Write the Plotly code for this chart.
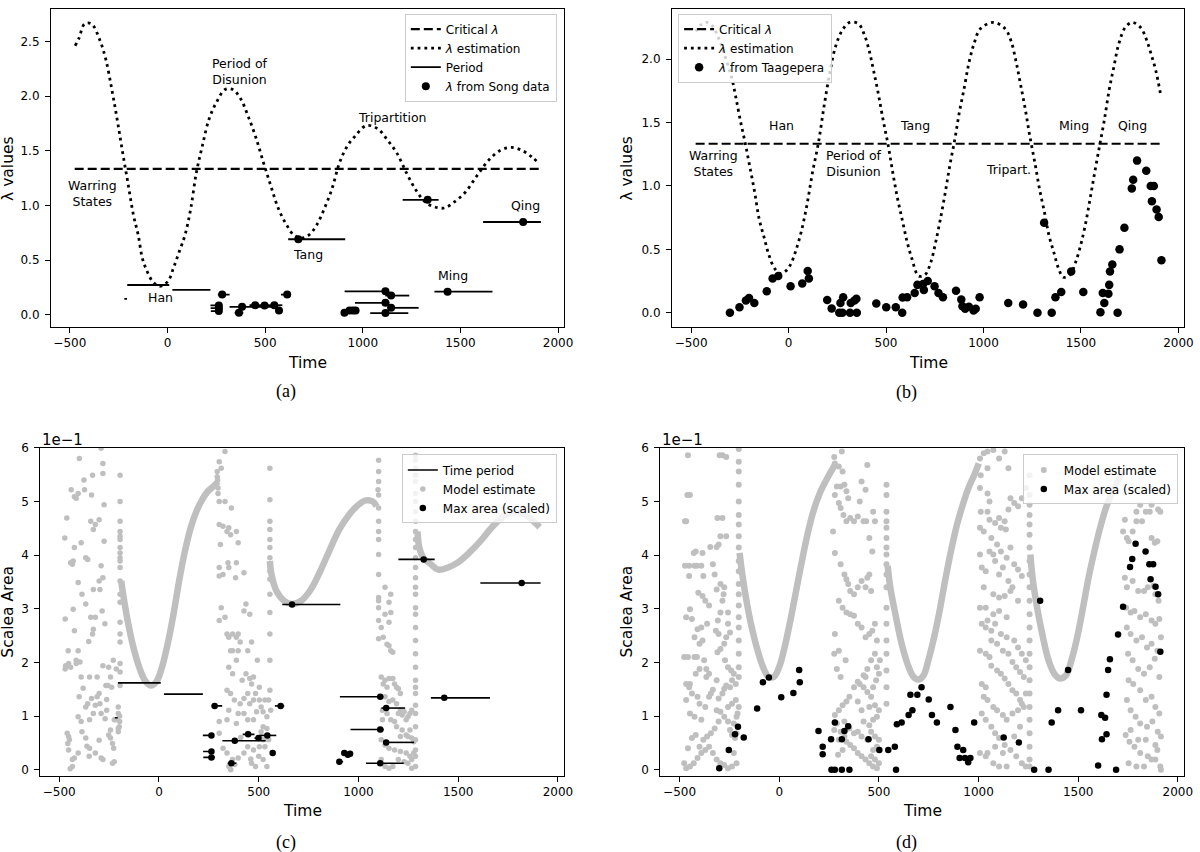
import plotly.graph_objects as go

FONT = "DejaVu Sans"
GRAY = "#bfbfbf"

# ---------------- Panel (a) data ----------------
a_crit_x = [-475, 1910]
a_crit_y = [1.333, 1.333]
a_curve_x = [-473, -453, -424, -389, -346, -315, -285, -258, -232, -203, -174, -150, -129, -105, -76, -41, 2, 31, 61, 90,
             119, 148, 178, 213, 250, 295, 334, 373, 412, 451, 490, 529, 568, 607, 646, 686, 725, 764, 803, 842, 881, 920,
             959, 1018, 1077, 1125, 1174, 1223, 1272, 1320, 1369, 1418, 1467, 1525, 1584, 1643, 1701, 1760, 1818, 1867, 1900]
a_curve_y = [2.46, 2.53, 2.66, 2.66, 2.51, 2.33, 2.06, 1.79, 1.51, 1.21, 0.91, 0.73, 0.52, 0.40, 0.305, 0.26, 0.305, 0.43, 0.58, 0.73,
             0.97, 1.30, 1.54, 1.79, 1.94, 2.06, 2.06, 1.98, 1.82, 1.63, 1.40, 1.18, 0.97, 0.83, 0.73, 0.70, 0.73, 0.82, 0.97, 1.15, 1.39, 1.54,
             1.63, 1.73, 1.70, 1.60, 1.48, 1.30, 1.14, 1.03, 0.985, 0.976, 1.03, 1.12, 1.27, 1.41, 1.50, 1.53, 1.50, 1.44, 1.39]
a_period_start = [-221, -206, 25, 220, 221, 222, 258, 344, 318, 420, 479, 502, 557, 581, 618, 907, 923, 936, 947, 907, 1115, 960, 1127, 1038, 1204, 1367, 1616]
a_period_end = [-207, 9, 220, 265, 263, 280, 318, 388, 535, 479, 502, 588, 581, 627, 910, 923, 936, 947, 960, 1135, 1238, 1136, 1286, 1233, 1388, 1664, 1912]
a_period_value = [0.145, 0.272, 0.228, 0.085, 0.06, 0.033, 0.184, 0.018, 0.072, 0.087, 0.084, 0.087, 0.039, 0.184, 0.690, 0.018, 0.039, 0.039, 0.039,
                  0.214, 0.175, 0.109, 0.063, 0.015, 1.051, 0.211, 0.848]
a_point_time = [263, 263, 263, 280, 366, 382, 449, 497, 547, 571, 613, 670, 906, 932, 949, 963, 1116, 1145, 1116, 1145, 1116, 1332, 1434, 1821]
a_point_value = [0.085, 0.06, 0.033, 0.184, 0.018, 0.072, 0.087, 0.084, 0.087, 0.039, 0.184, 0.690, 0.018, 0.039, 0.039, 0.039,
                 0.214, 0.175, 0.109, 0.063, 0.015, 1.051, 0.211, 0.848]
a_labels = ["Warring<br>States", "Han", "Period of<br>Disunion", "Tang", "Tripartition", "Ming", "Qing"]
a_label_x = [-385, -38, 373, 721, 1150, 1462, 1832]
a_label_y = [1.106, 0.155, 2.228, 0.555, 1.80, 0.362, 1.0]

# ---------------- Panel (b) data ----------------
b_crit_x = [-477, 1913]
b_crit_y = [1.333, 1.333]
b_curve_x = [-477, -450, -420, -390, -360, -330, -293, -272, -248, -223, -200, -174, -151, -125, -102, -72, -43, -14, 10, 35,
             65, 94, 123, 153, 182, 211, 241, 276, 313, 358, 387, 413, 436, 460, 485, 511, 534, 559, 585, 608,
             632, 667, 700, 730, 755, 779, 804, 827, 853, 876, 902, 925, 951, 984, 1052, 1111, 1140, 1166, 1189, 1215,
             1238, 1264, 1287, 1313, 1336, 1362, 1385, 1410, 1444, 1473, 1498, 1522, 1547, 1571, 1596, 1620, 1645, 1669, 1694, 1727,
             1763, 1806, 1835, 1860, 1884, 1909]
b_curve_y = [2.22, 2.27, 2.29, 2.26, 2.17, 2.04, 1.86, 1.71, 1.52, 1.34, 1.16, 0.95, 0.74, 0.59, 0.46, 0.35, 0.31, 0.33, 0.38, 0.48,
             0.64, 0.85, 1.11, 1.34, 1.63, 1.89, 2.10, 2.23, 2.29, 2.28, 2.20, 2.07, 1.91, 1.73, 1.52, 1.32, 1.11, 0.90, 0.72, 0.56,
             0.43, 0.29, 0.30, 0.40, 0.56, 0.74, 0.95, 1.16, 1.37, 1.58, 1.78, 1.97, 2.12, 2.24, 2.29, 2.24, 2.15, 1.99, 1.81, 1.60,
             1.39, 1.18, 0.98, 0.79, 0.61, 0.47, 0.35, 0.28, 0.30, 0.40, 0.53, 0.69, 0.90, 1.11, 1.32, 1.52, 1.76, 1.94, 2.12, 2.25,
             2.29, 2.25, 2.16, 2.04, 1.91, 1.72]
b_point_time = [-301, -252, -219, -203, -176, -112, -82, -53, 10, 70, 98, 104, 198, 221, 260, 266, 280, 276, 315, 319,
                338, 350, 348, 450, 501, 550, 583, 585, 608, 647, 661, 690, 714, 694, 749, 769, 792, 859, 886, 892,
                906, 925, 949, 960, 980, 1127, 1203, 1277, 1311, 1350, 1369, 1399, 1450, 1512, 1600, 1612, 1620, 1641, 1645, 1649,
                1661, 1688, 1698, 1723, 1761, 1768, 1788, 1835, 1858, 1874, 1864, 1888, 1899, 1913]
b_point_value = [0.0, 0.044, 0.096, 0.117, 0.078, 0.17, 0.27, 0.29, 0.21, 0.23, 0.33, 0.27, 0.10, 0.034, 0.0, 0.078, 0.122, 0.0, 0.0, 0.078,
                 0.096, 0.0, 0.11, 0.073, 0.044, 0.044, 0.0, 0.12, 0.122, 0.156, 0.22, 0.227, 0.25, 0.18, 0.21, 0.156, 0.122, 0.174, 0.104, 0.052,
                 0.031, 0.047, 0.018, 0.031, 0.122, 0.078, 0.065, 0.0, 0.71, 0.0, 0.122, 0.164, 0.326, 0.164, 0.005, 0.156, 0.078, 0.15, 0.22, 0.326,
                 0.38, 0.0, 0.5, 0.67, 0.98, 1.05, 1.20, 1.12, 1.00, 1.00, 0.88, 0.815, 0.755, 0.414]
b_labels = ["Han", "Tang", "Ming", "Qing", "Warring<br>States", "Period of<br>Disunion", "Tripart."]
b_label_x = [-39, 651, 1463, 1766, -385, 338, 1127]
b_label_y = [1.477, 1.477, 1.477, 1.477, 1.18, 1.18, 1.128]

# ---------------- Panel (c) data (Scalea Area in units of 1e-1) ----------------
c_model_curve1_x = [-189, -182, -157, -128, -99, -71, -42, -13, 15, 44, 73, 101, 130, 159, 187, 216, 245, 273, 296]
c_model_curve1_y = [3.52, 3.33, 2.78, 2.28, 1.91, 1.67, 1.57, 1.64, 1.91, 2.35, 2.90, 3.52, 4.07, 4.51, 4.81, 5.03, 5.19, 5.28, 5.37]
c_model_curve2_x = [556, 564, 589, 627, 667, 713, 761, 808, 856, 904, 952, 1000, 1038, 1072, 1091]
c_model_curve2_y = [3.89, 3.64, 3.33, 3.15, 3.09, 3.15, 3.36, 3.70, 4.10, 4.48, 4.75, 4.94, 5.02, 5.00, 4.91]
c_model_curve3_x = [1296, 1305, 1325, 1363, 1401, 1449, 1497, 1554, 1611, 1669, 1726, 1774, 1821, 1869, 1908]
c_model_curve3_y = [4.44, 4.14, 3.95, 3.83, 3.73, 3.77, 3.86, 4.04, 4.26, 4.52, 4.72, 4.80, 4.78, 4.66, 4.52]
c_model_points = [
    (-472, 4.32), (-470, 2.81), (-462, 4.69), (-455, 2.22), (-443, 1.91), (-468, 1.94), (-470, 1.88), (-424, 5.09), (-440, 5.22),
    (-405, 5.15), (-415, 5.06), (-399, 5.80), (-376, 5.40), (-373, 5.22), (-338, 5.12), (-333, 5.49), (-290, 5.99), (-281, 5.71),
    (-281, 5.52), (-275, 4.94), (-300, 4.66), (-319, 4.57), (-329, 4.48), (-342, 4.63), (-357, 3.92), (-367, 3.95), (-390, 4.23),
    (-424, 4.14), (-430, 3.89), (-443, 3.86), (-434, 3.83), (-405, 3.49), (-367, 3.09), (-329, 3.36), (-300, 3.52), (-296, 3.36),
    (-281, 3.58), (-275, 4.26), (-290, 3.80), (-285, 2.96), (-271, 2.72), (-319, 2.84), (-342, 2.84), (-329, 2.62), (-352, 2.39),
    (-333, 2.53), (-424, 2.59), (-430, 2.99), (-386, 3.27), (-405, 2.22), (-415, 2.04), (-396, 2.01), (-453, 1.98), (-415, 1.98),
    (-348, 1.73), (-390, 1.73), (-310, 1.73), (-281, 1.94), (-252, 1.91), (-229, 2.04), (-243, 1.73), (-266, 1.57), (-256, 1.57),
    (-237, 1.54), (-300, 1.42), (-310, 1.36), (-338, 1.33), (-357, 1.23), (-367, 1.17), (-319, 1.20), (-262, 1.31), (-296, 1.23),
    (-290, 1.05), (-262, 1.11), (-329, 1.05), (-348, 0.93), (-390, 0.90), (-405, 0.99), (-386, 0.71), (-367, 0.59), (-361, 0.44),
    (-348, 0.40), (-405, 0.31), (-424, 0.22), (-434, 0.19), (-453, 0.37), (-457, 0.49), (-453, 0.62), (-449, 0.56), (-434, 0.06),
    (-319, 0.31), (-290, 0.22), (-281, 0.19), (-252, 0.65), (-243, 0.59), (-233, 0.49), (-227, 0.40), (-224, 0.15), (-233, 0.12),
    (-243, 0.74), (-214, 0.93), (-204, 0.77), (-204, 0.71), (-224, 0.93), (-204, 1.05), (-204, 1.17), (-214, 1.88), (-445, 0.02),
    (-400, 1.36), (-380, 1.52), (-460, 0.68), (-300, 0.55), (-270, 0.95), (-350, 0.25),
    (-195, 5.49), (-195, 5.00), (-195, 4.63), (-195, 4.44), (-195, 4.35), (-195, 4.29), (-195, 4.14), (-195, 4.04), (-195, 3.95),
    (-195, 3.89), (-195, 3.77), (-195, 3.52), (-195, 3.27), (-195, 3.12), (-195, 2.75), (-195, 2.53), (-195, 2.38), (-195, 1.98),
    (-195, 1.82), (-195, 1.57), (-197, 1.00), (-197, 0.90), (-199, 0.80),
    (302, 5.74), (312, 5.62), (331, 5.93), (296, 5.25), (296, 5.15), (331, 5.00), (302, 5.00), (302, 4.57), (321, 4.54), (350, 4.51),
    (363, 4.88), (341, 4.44), (359, 4.38), (388, 4.44), (397, 4.23), (308, 4.20), (302, 3.77), (321, 3.64), (302, 3.61), (350, 3.77),
    (346, 3.86), (388, 3.86), (384, 3.58), (426, 3.67), (302, 2.78), (312, 3.02), (331, 2.84), (341, 2.53), (350, 2.47), (369, 2.53),
    (388, 2.47), (397, 2.53), (407, 2.38), (426, 2.96), (436, 3.09), (455, 2.90), (464, 2.38), (445, 2.22), (397, 2.22), (369, 2.22),
    (359, 2.22), (350, 1.91), (341, 1.48), (359, 1.42), (378, 1.30), (407, 1.23), (436, 1.79), (455, 1.70), (474, 1.73), (464, 1.60),
    (493, 2.04), (503, 1.54), (489, 1.08), (512, 1.17), (522, 1.08), (541, 0.99), (560, 1.11), (550, 1.30), (531, 1.30), (503, 1.30),
    (474, 1.30), (445, 1.42), (426, 1.33), (397, 1.05), (426, 1.05), (445, 0.93), (474, 0.93), (522, 0.80), (541, 0.77), (550, 0.56),
    (522, 0.56), (503, 0.43), (474, 0.37), (445, 0.43), (426, 0.31), (397, 0.22), (369, 0.19), (350, 0.06), (341, 0.31), (321, 0.40),
    (302, 0.68), (302, 0.90), (350, 1.11), (388, 0.86), (522, 0.19), (541, 0.06), (484, 0.06), (464, 0.12), (445, 0.68), (341, 0.93),
    (369, 1.79), (388, 2.04), (417, 1.67), (455, 1.23), (484, 1.42), (512, 0.71), (531, 0.43), (360, 0.0), (410, 0.6), (460, 0.2),
    (500, 0.25), (380, 0.1), (292, 5.56), (292, 5.46), (294, 5.40),
    (556, 5.62), (556, 5.03), (556, 4.63), (556, 4.48), (556, 4.29), (556, 4.14), (556, 3.95), (556, 3.70), (556, 3.55), (556, 3.27),
    (556, 2.93), (556, 2.53), (556, 2.04), (556, 1.48),
    (1101, 5.77), (1101, 5.56), (1101, 5.37), (1098, 5.22), (1101, 5.12), (1101, 4.88), (1101, 4.63), (1101, 4.44), (1101, 4.29),
    (1101, 4.01), (1101, 3.64), (1101, 3.21), (1101, 3.15), (1101, 3.02), (1101, 2.78), (1101, 2.44),
    (1114, 2.65), (1124, 2.47), (1133, 3.40), (1153, 3.12), (1162, 3.27), (1162, 2.93), (1133, 2.90), (1153, 2.75), (1143, 2.34),
    (1153, 2.31), (1162, 2.22), (1172, 2.19), (1114, 1.73), (1124, 1.60), (1133, 1.67), (1143, 1.54), (1153, 1.70), (1172, 1.70),
    (1181, 1.60), (1191, 1.54), (1200, 1.51), (1210, 1.42), (1133, 1.36), (1153, 1.27), (1172, 1.30), (1191, 1.23), (1200, 1.05),
    (1210, 1.11), (1219, 1.02), (1229, 1.08), (1239, 0.93), (1248, 0.99), (1258, 1.05), (1267, 1.11), (1120, 1.11), (1143, 1.05),
    (1162, 0.93), (1181, 0.90), (1191, 0.80), (1219, 0.74), (1239, 0.65), (1248, 0.62), (1267, 0.59), (1114, 0.56), (1133, 0.46),
    (1153, 0.40), (1181, 0.37), (1210, 0.34), (1239, 0.31), (1258, 0.25), (1267, 0.19), (1114, 0.19), (1133, 0.06), (1153, 0.03),
    (1172, 0.06), (1200, 0.19), (1229, 0.15), (1248, 0.12), (1267, 0.03), (1120, 0.93), (1114, 0.74), (1210, 0.62), (1258, 0.74),
    (1277, 0.52), (1277, 0.31),
    (1286, 5.86), (1286, 5.77), (1286, 5.62), (1286, 5.49), (1286, 5.37), (1286, 5.15), (1286, 5.00), (1286, 4.81), (1286, 4.63),
    (1286, 4.44), (1286, 4.29), (1286, 4.14), (1286, 3.95), (1286, 3.77), (1286, 3.58), (1286, 3.40), (1286, 3.27), (1286, 3.02),
    (1286, 2.90), (1286, 2.65), (1286, 2.41), (1286, 2.16), (1286, 1.91), (1286, 1.67), (1286, 1.54), (1286, 1.42), (1286, 1.20),
    (1286, 1.05), (1286, 0.80), (1286, 0.56), (1286, 0.37), (1286, 0.25), (1286, 0.06),
]
c_period_start = [-221, -206, 25, 220, 221, 222, 264, 344, 318, 420, 479, 502, 557, 581, 618, 907, 923, 936, 947, 907, 1115, 960, 1127, 1038, 1200, 1363, 1611]
c_period_end = [-207, 9, 220, 265, 263, 280, 317, 388, 535, 479, 502, 588, 581, 628, 909, 923, 936, 947, 960, 1125, 1234, 1127, 1279, 1227, 1382, 1659, 1913]
c_period_value = [0.97, 1.62, 1.41, 0.64, 0.34, 0.23, 1.19, 0.12, 0.54, 0.66, 0.59, 0.64, 0.31, 1.19, 3.08, 0.15, 0.31, 0.28, 0.30,
                  1.36, 1.15, 0.75, 0.51, 0.12, 3.92, 1.34, 3.48]
c_point_time = [263, 263, 263, 279, 363, 380, 447, 499, 543, 570, 610, 667, 904, 929, 947, 958, 1109, 1139, 1109, 1139, 1109, 1327, 1430, 1818]
c_point_value = [0.64, 0.34, 0.23, 1.19, 0.12, 0.54, 0.66, 0.59, 0.64, 0.31, 1.19, 3.08, 0.15, 0.31, 0.28, 0.30, 1.36, 1.15, 0.75, 0.51,
                 0.12, 3.92, 1.34, 3.48]

# ---------------- Panel (d) data (Scalea Area in units of 1e-1) ----------------
d_model_curve1_x = [-199, -190, -170, -142, -113, -84, -56, -27, 2, 31, 59, 88, 117, 145, 174, 203, 232, 260, 279]
d_model_curve1_y = [4.04, 3.77, 3.27, 2.72, 2.28, 1.94, 1.74, 1.73, 1.94, 2.35, 2.84, 3.40, 3.95, 4.44, 4.85, 5.15, 5.37, 5.56, 5.68]
d_model_curve2_x = [544, 557, 586, 614, 643, 672, 697, 724, 748, 777, 806, 835, 863, 892, 921, 949, 978, 1001]
d_model_curve2_y = [3.80, 3.40, 2.84, 2.35, 1.98, 1.74, 1.68, 1.76, 2.04, 2.47, 2.99, 3.58, 4.10, 4.57, 4.94, 5.25, 5.49, 5.71]
d_model_curve3_x = [1260, 1271, 1294, 1323, 1351, 1380, 1409, 1438, 1466, 1495, 1524, 1552, 1581, 1610, 1639, 1668, 1697, 1725]
d_model_curve3_y = [4.01, 3.58, 3.02, 2.47, 2.04, 1.79, 1.70, 1.76, 2.04, 2.47, 3.02, 3.58, 4.07, 4.51, 4.88, 5.15, 5.37, 5.56]
d_model_points = [
    (-458, 5.86), (-448, 5.12), (-461, 5.12), (-473, 4.63), (-467, 4.63), (-452, 3.61), (-452, 3.80), (-473, 3.80), (-413, 3.80),
    (-425, 3.80), (-391, 3.80), (-381, 3.61), (-385, 4.04), (-429, 4.04), (-419, 4.07), (-467, 2.84), (-448, 2.99), (-438, 2.81),
    (-477, 2.10), (-458, 2.10), (-425, 2.10), (-413, 2.10), (-448, 1.60), (-467, 1.60), (-438, 1.42), (-410, 1.36), (-400, 1.23),
    (-371, 1.17), (-385, 2.41), (-400, 2.35), (-425, 2.47), (-410, 2.62), (-391, 2.65), (-362, 2.72), (-352, 3.06), (-371, 3.15),
    (-385, 3.24), (-406, 3.30), (-377, 2.04), (-366, 1.88), (-352, 1.79), (-366, 1.73), (-352, 1.36), (-343, 1.42), (-333, 1.49),
    (-314, 1.67), (-310, 2.19), (-295, 2.25), (-304, 2.53), (-318, 2.59), (-308, 2.78), (-295, 2.93), (-285, 3.15), (-279, 3.27),
    (-276, 3.40), (-295, 3.46), (-314, 3.36), (-324, 3.64), (-333, 3.83), (-346, 4.15), (-314, 4.15), (-304, 4.20), (-295, 4.35),
    (-266, 4.35), (-285, 4.69), (-310, 4.69), (-299, 5.86), (-285, 5.86), (-266, 5.83), (-257, 2.93), (-257, 2.72), (-247, 2.56),
    (-266, 2.47), (-276, 2.35), (-272, 2.04), (-257, 1.91), (-241, 1.85), (-228, 1.79), (-237, 1.67), (-218, 1.60), (-247, 1.54),
    (-266, 1.57), (-276, 1.51), (-285, 1.42), (-304, 1.33), (-314, 1.11), (-295, 1.08), (-276, 0.99), (-257, 0.90), (-247, 0.74),
    (-237, 0.65), (-222, 0.59), (-214, 0.68), (-228, 0.86), (-214, 0.99), (-209, 1.05), (-203, 1.17), (-218, 1.30), (-237, 1.23),
    (-257, 1.17), (-228, 0.31), (-214, 0.12), (-237, 0.06), (-257, 0.03), (-276, 0.09), (-295, 0.12), (-314, 0.19), (-333, 0.31),
    (-352, 0.43), (-371, 0.37), (-391, 0.31), (-410, 0.22), (-429, 0.12), (-448, 0.06), (-467, 0.03), (-477, 0.12), (-458, 0.40),
    (-438, 0.59), (-419, 0.65), (-400, 0.43), (-381, 0.56), (-362, 0.62), (-343, 0.68), (-324, 0.77), (-304, 0.90), (-425, 0.99),
    (-391, 0.93), (-448, 1.05), (-467, 1.30), (-452, 1.54), (-419, 1.79), (-400, 1.88),
    (-203, 5.98), (-203, 5.74), (-203, 5.56), (-203, 5.31), (-203, 5.00), (-203, 4.75), (-203, 4.57), (-203, 4.35), (-203, 4.14),
    (-203, 3.89), (-203, 3.70), (-203, 3.46), (-203, 3.27), (-203, 3.06), (-203, 2.84), (-203, 2.65), (-203, 2.41), (-203, 2.16),
    (-203, 1.91), (-203, 1.73),
    (276, 5.83), (279, 5.71), (299, 5.65), (314, 5.93), (318, 5.56), (327, 5.31), (337, 5.19), (346, 5.06), (308, 5.28), (289, 5.28),
    (279, 5.12), (299, 4.97), (308, 4.88), (322, 4.75), (337, 4.63), (356, 4.69), (375, 4.63), (394, 4.72), (404, 5.00), (413, 5.37),
    (433, 5.22), (442, 5.68), (423, 4.63), (436, 4.63), (452, 4.32), (467, 4.07), (480, 4.63), (471, 4.81), (270, 4.44), (279, 4.04),
    (308, 3.83), (327, 3.64), (337, 3.55), (346, 3.46), (356, 3.33), (375, 3.27), (394, 3.40), (413, 3.52), (442, 3.58), (452, 3.64),
    (433, 3.40), (461, 3.33), (299, 3.15), (318, 3.02), (337, 2.93), (356, 2.90), (375, 2.87), (394, 2.72), (413, 2.65), (433, 2.47),
    (452, 2.53), (467, 2.59), (480, 2.72), (490, 2.41), (480, 2.16), (461, 2.04), (442, 1.88), (423, 1.76), (394, 1.64), (375, 1.54),
    (352, 1.36), (337, 1.27), (318, 1.20), (299, 1.11), (279, 1.02), (276, 0.74), (289, 0.86), (308, 0.71), (327, 0.62), (337, 0.52),
    (356, 0.46), (375, 0.40), (394, 0.31), (413, 0.25), (433, 0.19), (452, 0.12), (471, 0.06), (490, 0.03), (500, 0.12), (480, 0.19),
    (461, 0.25), (471, 0.37), (490, 0.43), (500, 0.56), (480, 0.62), (461, 0.71), (452, 0.83), (471, 0.93), (490, 0.99), (500, 1.11),
    (480, 1.20), (461, 1.36), (442, 1.45), (423, 1.54), (404, 1.60), (433, 1.73), (471, 1.54), (486, 1.67), (500, 1.79), (505, 2.04),
    (490, 1.91), (452, 1.17), (413, 1.11), (394, 1.27), (423, 0.90), (442, 0.56), (413, 0.62), (394, 0.71), (375, 0.68), (352, 0.77),
    (327, 0.90), (299, 0.56), (295, 0.28), (318, 0.37), (279, 2.53), (299, 2.22), (276, 2.16), (289, 1.88), (308, 1.73), (333, 2.04),
    (538, 5.31), (538, 5.12), (538, 4.81), (538, 4.63), (538, 4.51), (538, 4.32), (538, 4.14), (538, 4.01), (538, 3.83), (538, 3.64),
    (538, 3.40), (538, 3.02), (538, 2.72), (538, 2.41), (538, 2.16), (538, 1.85), (538, 1.54), (538, 1.23),
    (1007, 5.80), (1026, 5.90), (1045, 5.93), (1074, 5.96), (1103, 5.80), (1131, 5.93), (1150, 5.62), (1011, 5.49), (1045, 5.62),
    (1007, 5.25), (1045, 5.15), (1055, 5.00), (1011, 4.81), (1045, 4.81), (1055, 4.66), (1083, 4.60), (1103, 4.69), (1131, 4.63),
    (1112, 4.51), (1137, 4.48), (1150, 4.85), (1160, 5.06), (1179, 4.97), (1198, 4.91), (1217, 5.06), (1237, 5.25), (1007, 4.51),
    (1026, 4.44), (1064, 4.32), (1093, 4.20), (1007, 4.01), (1055, 4.07), (1074, 4.01), (1083, 3.89), (1112, 4.07), (1141, 3.95),
    (1160, 4.14), (1179, 3.83), (1198, 3.73), (1217, 3.61), (1016, 3.77), (1036, 3.70), (1103, 3.64), (1122, 3.77), (1150, 3.52),
    (1170, 3.40), (1026, 3.40), (1074, 3.27), (1103, 3.21), (1131, 3.24), (1160, 3.33), (1198, 3.15), (1007, 3.02), (1036, 3.02),
    (1074, 2.90), (1103, 2.96), (1141, 2.84), (1045, 2.78), (1016, 2.72), (1036, 2.65), (1064, 2.59), (1083, 2.72), (1112, 2.53),
    (1141, 2.47), (1179, 2.41), (1198, 2.28), (1217, 2.16), (1237, 2.04), (1064, 2.41), (1093, 2.35), (1122, 2.22), (1150, 2.16),
    (1170, 2.01), (1189, 1.91), (1208, 1.82), (1227, 1.73), (1007, 2.22), (1036, 2.16), (1055, 2.10), (1064, 1.94), (1093, 1.85),
    (1112, 1.79), (1131, 1.70), (1150, 1.60), (1170, 1.48), (1189, 1.42), (1208, 1.30), (1227, 1.17), (1016, 1.60), (1036, 1.54),
    (1026, 1.36), (1045, 1.30), (1074, 1.17), (1093, 1.11), (1122, 1.02), (1141, 0.93), (1170, 1.05), (1198, 1.11), (1217, 1.23),
    (1237, 1.42), (1016, 1.05), (1036, 0.93), (1064, 0.80), (1083, 0.68), (1103, 0.59), (1131, 0.46), (1160, 0.37), (1189, 0.25),
    (1217, 0.12), (1237, 0.06), (1007, 0.31), (1036, 0.25), (1074, 0.12), (1103, 0.06), (1141, 0.06), (1179, 0.62), (1208, 0.80),
    (1045, 0.31), (1083, 0.43), (1122, 0.31),
    (1256, 5.49), (1256, 5.12), (1256, 4.94), (1256, 4.75), (1256, 4.57), (1256, 4.38), (1256, 4.14), (1256, 3.89), (1256, 3.64),
    (1256, 3.40), (1256, 3.15), (1256, 2.90), (1256, 2.65), (1256, 2.41), (1256, 2.16), (1256, 1.91), (1256, 1.67), (1256, 1.42),
    (1256, 1.17), (1256, 0.93), (1256, 0.68), (1256, 0.43), (1256, 0.19), (1256, 0.06),
    (1734, 4.66), (1725, 4.44), (1744, 4.32), (1753, 4.26), (1773, 4.44), (1792, 4.63), (1820, 4.63), (1839, 4.81), (1859, 4.81),
    (1868, 4.32), (1884, 4.23), (1897, 4.26), (1912, 4.81), (1734, 3.58), (1744, 3.40), (1773, 3.52), (1801, 3.33), (1830, 3.33),
    (1849, 3.40), (1878, 3.43), (1887, 3.27), (1903, 3.15), (1740, 3.02), (1763, 2.93), (1782, 2.96), (1811, 2.84), (1839, 2.90),
    (1868, 2.78), (1887, 2.72), (1907, 2.81), (1744, 2.65), (1763, 2.53), (1792, 2.41), (1820, 2.47), (1845, 2.28), (1868, 2.35),
    (1897, 2.22), (1915, 2.47), (1750, 2.16), (1773, 2.04), (1801, 1.88), (1830, 1.79), (1859, 1.91), (1884, 2.07), (1907, 1.73),
    (1753, 1.67), (1776, 1.60), (1811, 1.48), (1839, 1.30), (1868, 1.36), (1887, 1.17), (1907, 1.05), (1744, 1.30), (1763, 1.11),
    (1788, 0.99), (1811, 0.86), (1845, 0.80), (1872, 0.90), (1899, 0.71), (1915, 0.62), (1738, 0.65), (1757, 0.52), (1782, 0.43),
    (1811, 0.31), (1849, 0.25), (1887, 0.19), (1912, 0.06), (1753, 0.12), (1792, 0.06), (1830, 0.06), (1868, 0.19), (1897, 0.37),
    (1763, 0.74), (1801, 0.56), (1839, 0.56), (1887, 0.46), (1915, 0.0), (1792, 4.81), (1811, 4.94), (1868, 4.94), (1901, 4.85),
]
d_point_time = [-301, -253, -222, -207, -178, -111, -82, -52, 10, 71, 100, 103, 197, 218, 218, 260, 262, 279, 279, 314,
                314, 327, 346, 352, 448, 502, 547, 580, 586, 590, 614, 649, 668, 658, 693, 714, 750, 766, 791, 859,
                884, 894, 923, 905, 932, 948, 959, 978, 1126, 1202, 1279, 1309, 1351, 1367, 1399, 1449, 1514, 1600, 1616, 1635,
                1619, 1642, 1642, 1650, 1659, 1690, 1700, 1725, 1760, 1771, 1788, 1838, 1857, 1876, 1863, 1888, 1901, 1912]
d_point_value = [0.03, 0.37, 0.66, 0.80, 0.60, 1.14, 1.63, 1.72, 1.35, 1.43, 1.86, 1.63, 0.72, 0.43, 0.29, 0.57, 0.0, 0.0, 0.88, 0.57,
                 0.0, 0.72, 0.81, 0.0, 0.57, 0.37, 0.37, 0.43, 0.0, 0.85, 0.88, 1.02, 1.11, 1.40, 1.40, 1.54, 1.31, 1.02, 0.88, 1.17,
                 0.74, 0.43, 0.37, 0.22, 0.22, 0.14, 0.22, 0.88, 0.60, 0.51, 0.0, 3.15, 0.0, 0.88, 1.11, 1.86, 1.11, 0.08, 1.02, 0.97,
                 0.57, 0.66, 1.40, 1.86, 2.06, 0.0, 2.52, 3.04, 3.78, 3.93, 4.21, 4.07, 3.83, 3.83, 3.55, 3.41, 3.27, 2.20]

time_ticks = [-500, 0, 500, 1000, 1500, 2000]


def segments(starts, ends, values):
    xs, ys = [], []
    for s, e, v in zip(starts, ends, values):
        xs += [s, e, None]
        ys += [v, v, None]
    return xs, ys


def split(points):
    return [p[0] for p in points], [p[1] for p in points]


fig = go.Figure()
DASH = "9px,4px"
DOT = "2.8px,4px"

# ---- (a)
fig.add_trace(go.Scatter(x=a_crit_x, y=a_crit_y, mode="lines", name="Critical <i>λ</i>",
                         line=dict(color="black", width=2.2, dash=DASH), xaxis="x", yaxis="y", legend="legend"))
fig.add_trace(go.Scatter(x=a_curve_x, y=a_curve_y, mode="lines", name="<i>λ</i> estimation",
                         line=dict(color="black", width=2.8, dash=DOT, shape="spline"), xaxis="x", yaxis="y", legend="legend"))
px_, py_ = segments(a_period_start, a_period_end, a_period_value)
fig.add_trace(go.Scatter(x=px_, y=py_, mode="lines", name="Period", line=dict(color="black", width=1.8),
                         xaxis="x", yaxis="y", legend="legend"))
fig.add_trace(go.Scatter(x=a_point_time, y=a_point_value, mode="markers", name="<i>λ</i> from Song data",
                         marker=dict(color="black", size=8), xaxis="x", yaxis="y", legend="legend"))

# ---- (b)
fig.add_trace(go.Scatter(x=b_crit_x, y=b_crit_y, mode="lines", name="Critical <i>λ</i>",
                         line=dict(color="black", width=2.2, dash=DASH), xaxis="x2", yaxis="y2", legend="legend2"))
fig.add_trace(go.Scatter(x=b_curve_x, y=b_curve_y, mode="lines", name="<i>λ</i> estimation",
                         line=dict(color="black", width=2.8, dash=DOT, shape="spline"), xaxis="x2", yaxis="y2", legend="legend2"))
fig.add_trace(go.Scatter(x=b_point_time, y=b_point_value, mode="markers", name="<i>λ</i> from Taagepera",
                         marker=dict(color="black", size=8.5), xaxis="x2", yaxis="y2", legend="legend2"))

# ---- (c)
cx, cy = split(c_model_points)
for cxs, cys in [(c_model_curve1_x, c_model_curve1_y), (c_model_curve2_x, c_model_curve2_y), (c_model_curve3_x, c_model_curve3_y)]:
    fig.add_trace(go.Scatter(x=cxs, y=cys, mode="lines", line=dict(color=GRAY, width=6.5, shape="spline"),
                             showlegend=False, xaxis="x3", yaxis="y3", hoverinfo="skip"))
fig.add_trace(go.Scatter(x=cx, y=cy, mode="markers", name="Model estimate", marker=dict(color=GRAY, size=5.5),
                         xaxis="x3", yaxis="y3", legend="legend3", legendrank=2))
px_, py_ = segments(c_period_start, c_period_end, c_period_value)
fig.add_trace(go.Scatter(x=px_, y=py_, mode="lines", name="Time period", line=dict(color="black", width=1.6),
                         xaxis="x3", yaxis="y3", legend="legend3", legendrank=1))
fig.add_trace(go.Scatter(x=c_point_time, y=c_point_value, mode="markers", name="Max area (scaled)",
                         marker=dict(color="black", size=6.5), xaxis="x3", yaxis="y3", legend="legend3", legendrank=3))

# ---- (d)
dx, dy = split(d_model_points)
for dxs, dys in [(d_model_curve1_x, d_model_curve1_y), (d_model_curve2_x, d_model_curve2_y), (d_model_curve3_x, d_model_curve3_y)]:
    fig.add_trace(go.Scatter(x=dxs, y=dys, mode="lines", line=dict(color=GRAY, width=6.5, shape="spline"),
                             showlegend=False, xaxis="x4", yaxis="y4", hoverinfo="skip"))
fig.add_trace(go.Scatter(x=dx, y=dy, mode="markers", name="Model estimate", marker=dict(color=GRAY, size=6),
                         xaxis="x4", yaxis="y4", legend="legend4", legendrank=1))
fig.add_trace(go.Scatter(x=d_point_time, y=d_point_value, mode="markers", name="Max area (scaled)",
                         marker=dict(color="black", size=6.5), xaxis="x4", yaxis="y4", legend="legend4", legendrank=2))

W, H = 1200, 852


def fx(p):
    return p / W


def fy(p):
    return 1 - p / H


axis_common = dict(showgrid=False, zeroline=False, showline=True, mirror=True, linecolor="black", linewidth=1.2,
                   ticks="outside", ticklen=5, tickwidth=1, tickcolor="black",
                   tickfont=dict(family=FONT, size=12, color="black"))
yaxis_common = dict(axis_common, ticklabelstandoff=3)

fig.update_layout(
    width=W, height=H, autosize=False, margin=dict(l=0, r=0, t=0, b=0),
    paper_bgcolor="white", plot_bgcolor="white", font=dict(family=FONT, color="black"),
    xaxis=dict(domain=[fx(51.5), fx(568.5)], range=[-596, 2029], anchor="y", tickvals=time_ticks, **axis_common),
    yaxis=dict(domain=[fy(323), fy(2)], range=[-0.112, 2.796], anchor="x", tickvals=[0, 0.5, 1, 1.5, 2, 2.5],
               tickformat=".1f", **yaxis_common),
    xaxis2=dict(domain=[fx(677.7), fx(1194)], range=[-598, 2029], anchor="y2", tickvals=time_ticks, **axis_common),
    yaxis2=dict(domain=[fy(323), fy(2)], range=[-0.112, 2.396], anchor="x2", tickvals=[0, 0.5, 1, 1.5, 2],
                tickformat=".1f", **yaxis_common),
    xaxis3=dict(domain=[fx(40.8), fx(568.5)], range=[-594, 2029], anchor="y3", tickvals=time_ticks, **axis_common),
    yaxis3=dict(domain=[fy(776), fy(445)], range=[-0.111, 6.0], anchor="x3", tickvals=[0, 1, 2, 3, 4, 5, 6], **yaxis_common),
    xaxis4=dict(domain=[fx(666), fx(1194)], range=[-596, 2031], anchor="y4", tickvals=time_ticks, **axis_common),
    yaxis4=dict(domain=[fy(776), fy(445)], range=[-0.111, 6.0], anchor="x4", tickvals=[0, 1, 2, 3, 4, 5, 6], **yaxis_common),
)

legend_common = dict(bgcolor="rgba(255,255,255,0.8)", bordercolor="#cccccc", borderwidth=1,
                     font=dict(family=FONT, size=12, color="black"), tracegroupgap=0, itemwidth=30)
fig.update_layout(
    legend=dict(x=fx(561.5), y=fy(6.7), xanchor="right", yanchor="top", **legend_common),
    legend2=dict(x=fx(683.8), y=fy(6.7), xanchor="left", yanchor="top", **legend_common),
    legend3=dict(x=fx(561.5), y=fy(451.7), xanchor="right", yanchor="top", **legend_common),
    legend4=dict(x=fx(1187.7), y=fy(451.7), xanchor="right", yanchor="top", **legend_common),
)

annotations = []
label_font = dict(family=FONT, size=12.5, color="black")
for t, x, y in zip(a_labels, a_label_x, a_label_y):
    annotations.append(dict(text=t, x=x, y=y, xref="x", yref="y", showarrow=False, font=label_font))
for t, x, y in zip(b_labels, b_label_x, b_label_y):
    annotations.append(dict(text=t, x=x, y=y, xref="x2", yref="y2", showarrow=False, font=label_font))

title_font = dict(family=FONT, size=15.5, color="black")
for x, y in [(309.6, 359), (935.8, 359), (304.6, 812), (930, 812)]:
    annotations.append(dict(text="Time", x=fx(x), y=fy(y), xref="paper", yref="paper", showarrow=False,
                            font=title_font, xanchor="center", yanchor="middle"))
for t, x, y in [("λ values", 8, 162.5), ("λ values", 632, 162.5), ("Scalea Area", 8, 610.5), ("Scalea Area", 632, 610.5)]:
    annotations.append(dict(text=t, x=fx(x), y=fy(y), xref="paper", yref="paper", showarrow=False, textangle=-90,
                            font=title_font, xanchor="center", yanchor="middle"))
for t, x in [("1e−1", 40.8), ("1e−1", 666)]:
    annotations.append(dict(text=t, x=fx(x), y=fy(437), xref="paper", yref="paper", showarrow=False,
                            font=dict(family=FONT, size=15, color="black"), xanchor="left", yanchor="middle"))
cap_font = dict(family="Liberation Serif", size=18, color="black")
for t, x, y in [("(a)", 288.5, 388), ("(b)", 914.6, 389), ("(c)", 288.5, 843), ("(d)", 914.6, 843)]:
    annotations.append(dict(text=t, x=fx(x), y=fy(y), xref="paper", yref="paper", showarrow=False,
                            font=cap_font, xanchor="center", yanchor="middle"))
fig.update_layout(annotations=annotations)

fig.write_html("out.html")
